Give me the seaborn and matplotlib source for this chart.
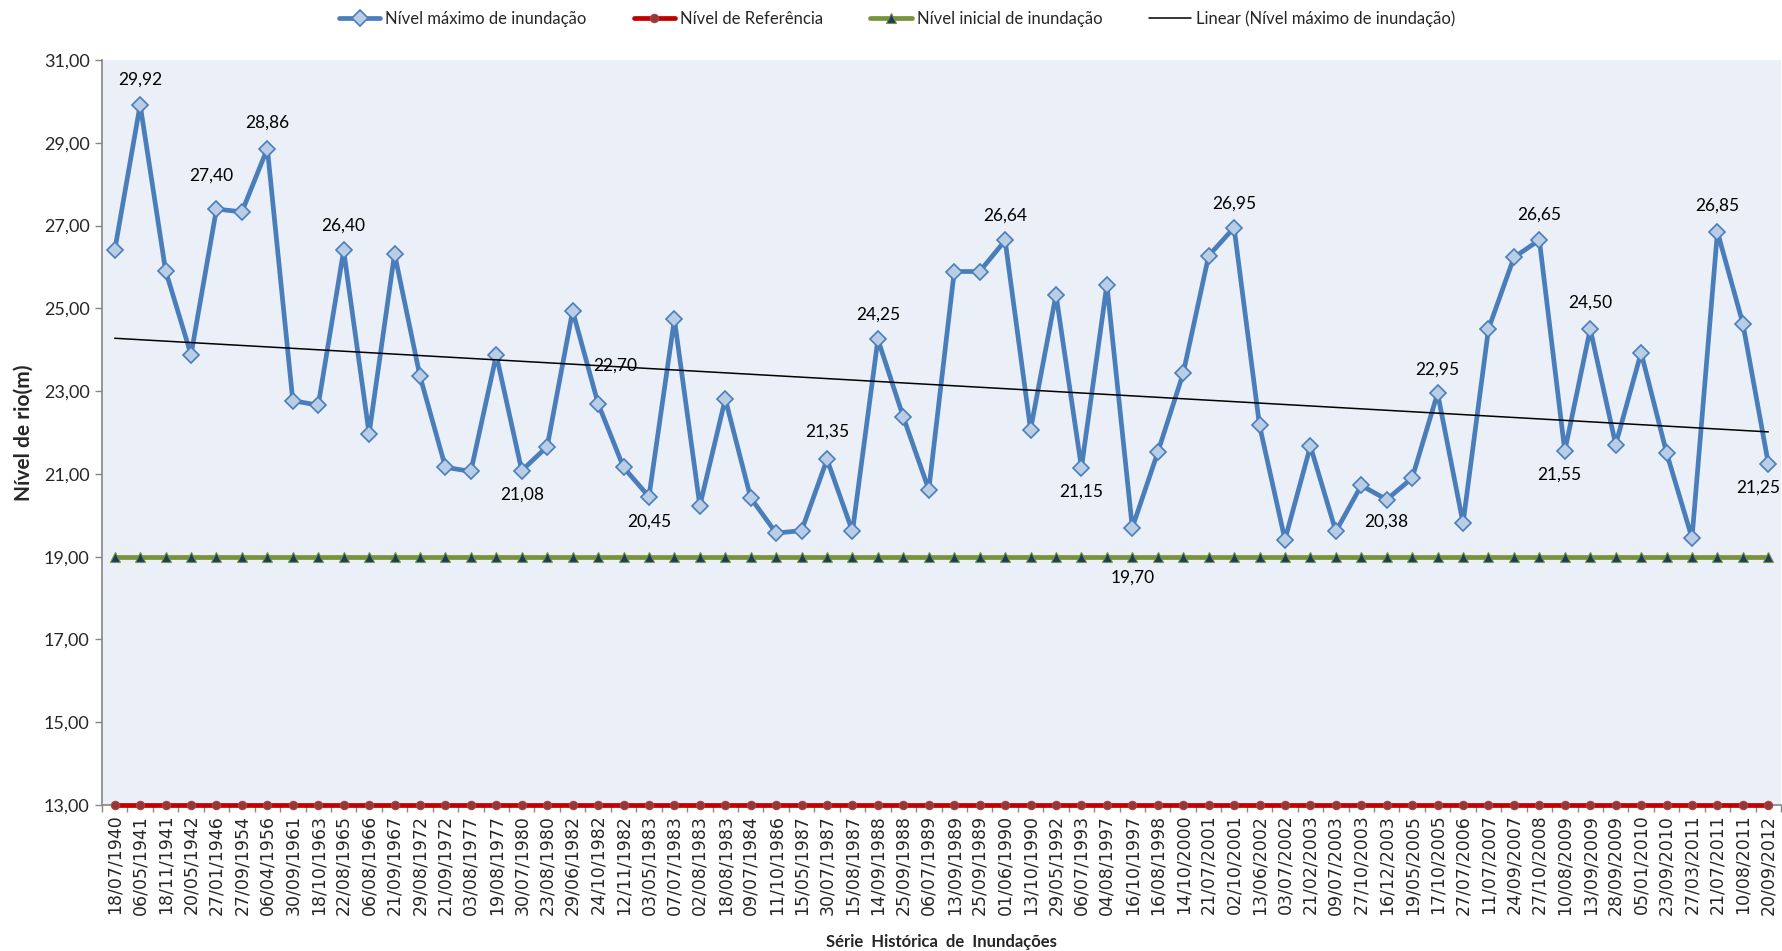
import numpy as np
import pandas as pd
import matplotlib
matplotlib.use("Agg")
import matplotlib.pyplot as plt
import seaborn as sns
from matplotlib.ticker import FuncFormatter

dates = [
    "18/07/1940", "06/05/1941", "18/11/1941", "20/05/1942", "27/01/1946", "27/09/1954",
    "06/04/1956", "30/09/1961", "18/10/1963", "22/08/1965", "06/08/1966", "21/09/1967",
    "29/08/1972", "21/09/1972", "03/08/1977", "19/08/1977", "30/07/1980", "23/08/1980",
    "29/06/1982", "24/10/1982", "12/11/1982", "03/05/1983", "07/07/1983", "02/08/1983",
    "18/08/1983", "09/07/1984", "11/10/1986", "15/05/1987", "30/07/1987", "15/08/1987",
    "14/09/1988", "25/09/1988", "06/07/1989", "13/09/1989", "25/09/1989", "01/06/1990",
    "13/10/1990", "29/05/1992", "06/07/1993", "04/08/1997", "16/10/1997", "16/08/1998",
    "14/10/2000", "21/07/2001", "02/10/2001", "13/06/2002", "03/07/2002", "21/02/2003",
    "09/07/2003", "27/10/2003", "16/12/2003", "19/05/2005", "17/10/2005", "27/07/2006",
    "11/07/2007", "24/09/2007", "27/10/2008", "10/08/2009", "13/09/2009", "28/09/2009",
    "05/01/2010", "23/09/2010", "27/03/2011", "21/07/2011", "10/08/2011", "20/09/2012",
]

max_level = [
    26.40, 29.92, 25.91, 23.88, 27.40, 27.33, 28.86, 22.77, 22.66, 26.40, 21.97, 26.32,
    23.36, 21.16, 21.06, 23.87, 21.08, 21.66, 24.94, 22.70, 21.16, 20.45, 24.74, 20.23,
    22.81, 20.42, 19.57, 19.63, 21.35, 19.61, 24.25, 22.37, 20.62, 25.89, 25.89, 26.64,
    22.07, 25.33, 21.15, 25.57, 19.70, 21.52, 23.43, 26.27, 26.95, 22.17, 19.41, 21.67,
    19.61, 20.72, 20.38, 20.90, 22.95, 19.81, 24.50, 26.23, 26.65, 21.55, 24.50, 21.71,
    23.93, 21.51, 19.45, 26.85, 24.63, 21.25,
]

ref_level = [13.00] * len(dates)
init_level = [19.00] * len(dates)

y_ticks = [13, 15, 17, 19, 21, 23, 25, 27, 29, 31]

# points that carry a value label: index, offset x (pt), offset y (pt)
label_idx = [1, 4, 6, 9, 16, 19, 21, 28, 30, 35, 38, 40, 44, 50, 52, 56, 57, 58, 63, 65]
label_dx = [0, -4, 0, 0, 0, 12, 0, 0, 0, 0, 0, 0, 0, 0, 0, 0, -4, 0, 0, -7]
label_dy = [18, 24, 19, 18, -17, 27, -18, 20, 18, 18, -17, -36, 17, -16, 17, 18, -17, 19, 19, -17]

sns.set_theme(style="white")
plt.rcParams['font.family'] = ['Lato', 'DejaVu Sans']

df = pd.DataFrame({"idx": np.arange(len(dates)), "max": max_level,
                   "ref": ref_level, "init": init_level})

fig = plt.figure(figsize=(17.83, 9.51), dpi=100)
ax = fig.add_axes([0.0572, 0.1535, 0.9417, 0.7834])
ax.set_facecolor("#EBF0F8")

sns.lineplot(data=df, x="idx", y="max", ax=ax, color="#4A7EBB", lw=3.4,
             marker="D", ms=8.5, mfc="#B9CDE5", mec="#4A7EBB", mew=1.2,
             label="Nível máximo de inundação", zorder=3, clip_on=False)
sns.lineplot(data=df, x="idx", y="ref", ax=ax, color="#C00000", lw=3.4,
             marker="o", ms=6, mfc="#953735", mec="#A84444", mew=0.8,
             label="Nível de Referência", zorder=3, clip_on=False)
sns.lineplot(data=df, x="idx", y="init", ax=ax, color="#77933C", lw=3.4,
             marker="^", ms=7.5, mfc="#1F3A60", mec="#77933C", mew=0.8,
             label="Nível inicial de inundação", zorder=3, clip_on=False)
sns.regplot(data=df, x="idx", y="max", ax=ax, scatter=False, ci=None,
            color="black", line_kws={"lw": 1.1, "zorder": 5},
            label="Linear (Nível máximo de inundação)")

for i, dx, dy in zip(label_idx, label_dx, label_dy):
    txt = f"{max_level[i]:.2f}".replace(".", ",")
    ax.annotate(txt, (i, max_level[i]), xytext=(dx, dy), textcoords="offset points",
                ha="center", va="center", fontsize=12.5, color="black", zorder=4)

ax.set_xlim(-0.5, len(dates) - 0.5)
ax.set_ylim(13, 31)
ax.set_yticks(y_ticks)
ax.yaxis.set_major_formatter(FuncFormatter(lambda v, p: f"{v:.2f}".replace(".", ",")))
ax.tick_params(axis="y", which="major", direction="out", length=5, width=1,
               color="#868686", labelsize=13, pad=4, left=True)

ax.set_xticks(np.arange(len(dates)))
ax.set_xticklabels(dates, rotation=90, fontfamily="DejaVu Sans", fontsize=12.5)
ax.set_xticks(np.arange(len(dates) + 1) - 0.5, minor=True)
ax.tick_params(axis="x", which="major", length=0, pad=7)
ax.tick_params(axis="x", which="minor", direction="out", length=5, width=1,
               color="#868686", bottom=True)

for s in ["top", "right"]:
    ax.spines[s].set_visible(False)
for s in ["left", "bottom"]:
    ax.spines[s].set_color("#868686")
    ax.spines[s].set_linewidth(1.2)

ax.set_xlabel("")
ax.set_ylabel("")
fig.text(0.0572 + 0.9417 / 2, 0.009, "Série  Histórica  de  Inundações",
         ha="center", va="center", fontsize=12, fontweight="bold")
fig.text(0.013, 0.1535 + 0.7834 / 2, "Nível de rio(m)", rotation=90,
         ha="center", va="center", fontsize=15, fontweight="bold")

handles, labels = ax.get_legend_handles_labels()
ax.get_legend().remove()
fig.legend(handles, labels, loc="center", bbox_to_anchor=(0.503, 0.98), ncol=4,
           frameon=False, fontsize=12, handlelength=2.5, handletextpad=0.3,
           columnspacing=2.8)

fig.savefig("out.png", dpi=100)
